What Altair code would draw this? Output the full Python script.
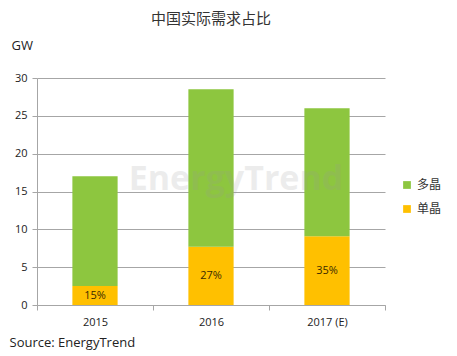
import altair as alt
import pandas as pd

years = ["2015", "2016", "2017 (E)"]
mono = [2.5, 7.7, 9.1]
multi = [14.5, 20.8, 16.9]
mono_pct = ["15%", "27%", "35%"]
y_ticks = [0, 5, 10, 15, 20, 25, 30]

rows = []
for y, m, p in zip(years, mono, multi):
    rows.append({"year": y, "type": "单晶", "value": m, "ord": 0})
    rows.append({"year": y, "type": "多晶", "value": p, "ord": 1})
df = pd.DataFrame(rows)
lab = pd.DataFrame({"year": years, "mid": [m / 2 for m in mono], "pct": mono_pct})
wm = pd.DataFrame({"year": ["2016"], "v": [16.5], "t": ["EnergyTrend"]})

FONT = "Open Sans"
xaxis = alt.Axis(title="Source: EnergyTrend", labelAngle=0, tickBand="extent",
                 domainColor="#A6A6A6", tickColor="#A6A6A6", tickSize=5,
                 labelFont=FONT, labelFontSize=11, labelColor="#222222", labelPadding=6,
                 titleFont=FONT, titleFontSize=13, titleFontWeight="normal",
                 titleColor="#222222", titleAnchor="start", titleAlign="left",
                 titleX=-28, titleY=37, titleBaseline="middle")
yaxis = alt.Axis(values=y_ticks, title="GW", titleAngle=0,
                 titleX=-26, titleY=-33, titleAlign="left", titleBaseline="middle",
                 titleFont=FONT, titleFontSize=13, titleFontWeight="normal",
                 titleColor="#222222",
                 grid=True, gridColor="#A6A6A6", domainColor="#A6A6A6",
                 tickColor="#A6A6A6", tickSize=5,
                 labelFont=FONT, labelFontSize=11, labelColor="#222222", labelPadding=5)
xscale = alt.Scale(paddingInner=0, paddingOuter=0)
yscale = alt.Scale(domain=[0, 30])

bars = alt.Chart(df).mark_bar(width=alt.RelativeBandSize(0.39)).encode(
    x=alt.X("year:N", sort=years, scale=xscale, axis=xaxis),
    y=alt.Y("value:Q", stack="zero", scale=yscale, axis=yaxis),
    color=alt.Color("type:N", sort=["多晶", "单晶"],
                    scale=alt.Scale(domain=["多晶", "单晶"], range=["#8DC63F", "#FFC000"]),
                    legend=alt.Legend(title=None, orient="none", legendX=364, legendY=101,
                                      symbolType="square", symbolSize=60, symbolStrokeWidth=0,
                                      labelFont="Noto Sans CJK SC", labelFontSize=12,
                                      labelColor="#333333", rowPadding=12)),
    order=alt.Order("ord:Q"),
)

labels = alt.Chart(lab).mark_text(font=FONT, fontSize=11, color="#3a2a00").encode(
    x=alt.X("year:N", sort=years, scale=xscale, axis=xaxis),
    y=alt.Y("mid:Q", scale=yscale, axis=yaxis), text="pct:N")

water = alt.Chart(wm).mark_text(font=FONT, fontSize=34, fontWeight="bold",
                                color="#9a9a9a", opacity=0.18, dx=25).encode(
    x=alt.X("year:N", sort=years, scale=xscale, axis=xaxis),
    y=alt.Y("v:Q", scale=yscale, axis=yaxis), text="t:N")

chart = (bars + water + labels).properties(
    width=348, height=227, background="white",
    title=alt.TitleParams("中国实际需求占比", font="Noto Sans CJK SC", fontSize=15,
                          fontWeight="normal", color="#333333", anchor="middle", offset=12),
    padding={"left": 29, "top": 70, "right": 64, "bottom": 48},
    autosize=alt.AutoSizeParams(type="none"),
).configure_view(stroke=None)

chart.save("out.html", embed_options={"renderer": "svg", "actions": False})
